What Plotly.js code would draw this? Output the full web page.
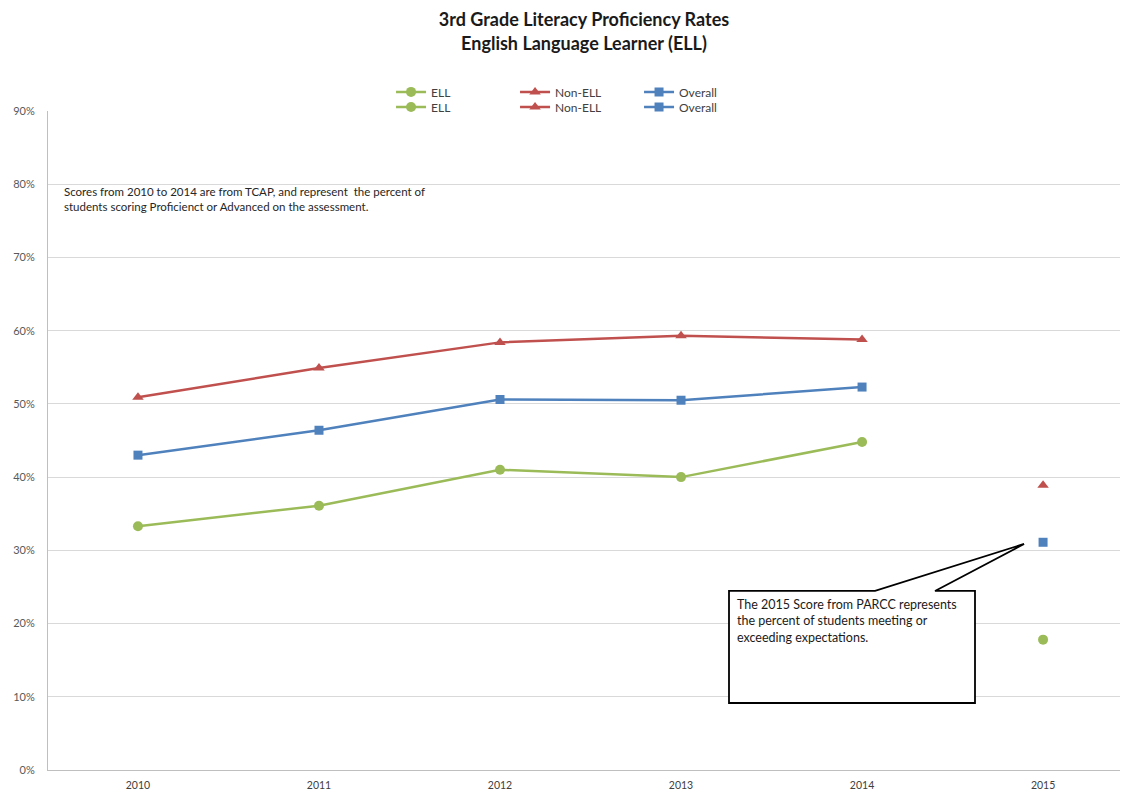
<!DOCTYPE html>
<html>
<head>
<meta charset="utf-8">
<script src="https://cdn.plot.ly/plotly-3.0.1.min.js"></script>
<style>
  html, body { margin: 0; padding: 0; background: #fff; }
  #chart { width: 1122px; height: 792px; }
</style>
</head>
<body>
<div id="chart"></div>
<script>
// TCAP years (2010-2014) and the PARCC year (2015)
const tcapYears = [2010, 2011, 2012, 2013, 2014];
const parccYears = [2015];
const yearLabels = ['2010', '2011', '2012', '2013', '2014', '2015'];

// Percent proficient or advanced (TCAP)
const ellTcap = [33.3, 36.1, 41.0, 40.0, 44.8];
const nonEllTcap = [50.9, 54.9, 58.4, 59.3, 58.8];
const overallTcap = [43.0, 46.4, 50.6, 50.5, 52.3];

// Percent meeting or exceeding expectations (PARCC)
const ellParcc = [17.8];
const nonEllParcc = [38.9];
const overallParcc = [31.1];

const yTicks = [0, 10, 20, 30, 40, 50, 60, 70, 80, 90];

const colors = { ell: '#9BBB59', nonEll: '#C0504D', overall: '#4F81BD' };
const font = 'Lato, "Open Sans", "DejaVu Sans", sans-serif';

function series(name, x, y, color, symbol, size, legend) {
  return {
    type: 'scatter', mode: 'lines+markers', name: name, x: x, y: y,
    line: { color: color, width: 2.5 },
    marker: { color: color, symbol: symbol, size: size },
    legend: legend, hoverinfo: 'x+y+name'
  };
}

const traces = [
  series('ELL', tcapYears, ellTcap, colors.ell, 'circle', 10, 'legend'),
  series('Non-ELL', tcapYears, nonEllTcap, colors.nonEll, 'triangle-up', 10, 'legend'),
  series('Overall', tcapYears, overallTcap, colors.overall, 'square', 9, 'legend'),
  series('ELL', parccYears, ellParcc, colors.ell, 'circle', 10, 'legend2'),
  series('Non-ELL', parccYears, nonEllParcc, colors.nonEll, 'triangle-up', 10, 'legend2'),
  series('Overall', parccYears, overallParcc, colors.overall, 'square', 9, 'legend2')
];

// Callout box with a pointer toward the 2015 values
const bx0 = 2013.265, bx1 = 2014.624, by0 = 9.15, by1 = 24.45;
const wedgeL = 2014.072, wedgeR = 2014.403, tipX = 2014.895, tipY = 30.87;
const calloutPath = `M ${bx0},${by1} L ${wedgeL},${by1} L ${tipX},${tipY} L ${wedgeR},${by1} ` +
                    `L ${bx1},${by1} L ${bx1},${by0} L ${bx0},${by0} Z`;

const legendCommon = {
  orientation: 'h', xref: 'paper', yref: 'paper', xanchor: 'left', yanchor: 'middle',
  bgcolor: 'rgba(0,0,0,0)', borderwidth: 0,
  font: { family: font, size: 12, color: '#404040' },
  entrywidth: 79, entrywidthmode: 'pixels', tracegroupgap: 0, itemwidth: 30
};

const layout = {
  width: 1122, height: 792,
  paper_bgcolor: '#ffffff', plot_bgcolor: '#ffffff',
  margin: { l: 48, r: 2, t: 111, b: 22 },
  font: { family: font, color: '#404040' },
  title: {
    text: '<b>3rd Grade Literacy Proficiency Rates<br>English Language Learner (ELL)</b>',
    font: { family: font, size: 18, color: '#1a1a1a' },
    x: 0.5, xanchor: 'center', y: 0.967, yanchor: 'top', xref: 'paper', yref: 'container'
  },
  showlegend: true,
  legend: Object.assign({}, legendCommon, { x: 0.32, y: 1.029 }),
  legend2: Object.assign({}, legendCommon, { x: 0.32, y: 1.006 }),
  xaxis: {
    range: [2009.503, 2015.425],
    tickvals: [2010, 2011, 2012, 2013, 2014, 2015],
    ticktext: yearLabels,
    showgrid: false, zeroline: false,
    showline: true, linecolor: '#bfbfbf', linewidth: 1,
    ticks: '', ticklabelstandoff: 5,
    tickfont: { family: font, size: 10.5, color: '#404040' },
    fixedrange: true
  },
  yaxis: {
    range: [0, 90],
    tickvals: yTicks,
    ticktext: yTicks.map(v => v + '%'),
    showgrid: true, gridcolor: '#d9d9d9', gridwidth: 1,
    zeroline: false,
    showline: true, linecolor: '#bfbfbf', linewidth: 1,
    ticks: '', ticklabelstandoff: 10,
    tickfont: { family: font, size: 11, color: '#595959' },
    fixedrange: true
  },
  shapes: [
    {
      type: 'path', xref: 'x', yref: 'y', path: calloutPath,
      fillcolor: '#ffffff', line: { color: '#000000', width: 1.8 }, layer: 'above'
    }
  ],
  annotations: [
    {
      xref: 'paper', yref: 'paper', x: 0.013, y: 0.8905, xanchor: 'left', yanchor: 'top',
      align: 'left', showarrow: false,
      text: 'Scores from 2010 to 2014 are from TCAP, and represent  the percent of<br>students scoring Proficienct or Advanced on the assessment.',
      font: { family: font, size: 11.5, color: '#262626' }
    },
    {
      xref: 'x', yref: 'y', x: bx0 + 0.035, y: by1 - 0.6, xanchor: 'left', yanchor: 'top',
      align: 'left', showarrow: false,
      text: 'The 2015 Score from PARCC represents<br>the percent of students meeting or<br>exceeding expectations.',
      font: { family: font, size: 12.5, color: '#1a1a1a' }
    }
  ]
};

Plotly.newPlot('chart', traces, layout, { displayModeBar: false, staticPlot: true });
</script>
</body>
</html>
